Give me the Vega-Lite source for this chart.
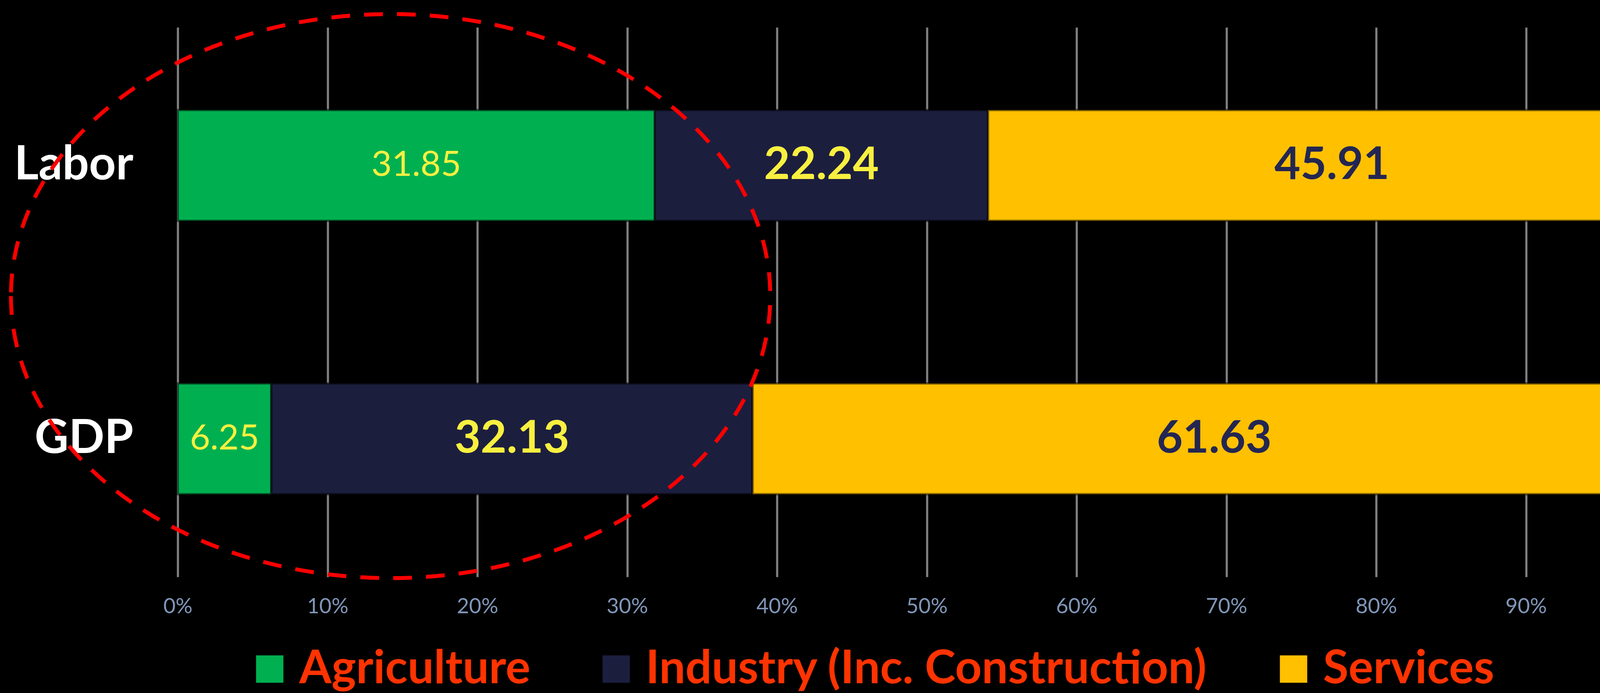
{
  "$schema": "https://vega.github.io/schema/vega-lite/v6.json",
  "background": "#000000",
  "autosize": {"type": "none"},
  "padding": {"left": 455, "top": 70, "right": 78, "bottom": 297},
  "width": 3835,
  "height": 1406,
  "config": {
    "view": {"stroke": null},
    "font": "Lato"
  },
  "layer": [
    {
      "data": {
        "values": [
          {"row": "Labor", "sector": "Agriculture", "value": 31.85},
          {"row": "Labor", "sector": "Industry (Inc. Construction)", "value": 22.24},
          {"row": "Labor", "sector": "Services", "value": 45.91},
          {"row": "GDP", "sector": "Agriculture", "value": 6.25},
          {"row": "GDP", "sector": "Industry (Inc. Construction)", "value": 32.13},
          {"row": "GDP", "sector": "Services", "value": 61.63}
        ]
      },
      "encoding": {
        "y": {
          "field": "row",
          "type": "nominal",
          "sort": ["Labor", "GDP"],
          "scale": {"type": "band", "paddingInner": 0.595, "paddingOuter": 0.3025},
          "axis": {
            "title": null,
            "domain": false,
            "ticks": false,
            "labelPadding": 114,
            "labelColor": "#ffffff",
            "labelFont": "Lato",
            "labelFontSize": 120,
            "labelFontWeight": "bold",
            "labelLimit": 0
          }
        }
      },
      "layer": [
        {
          "mark": {"type": "bar", "stroke": "#000000", "strokeOpacity": 0.5, "strokeWidth": 6},
          "encoding": {
            "x": {
              "field": "value",
              "type": "quantitative",
              "stack": "normalize",
              "scale": {"domain": [0, 1], "nice": false},
              "axis": {
                "title": null,
                "format": "%",
                "values": [0, 0.1, 0.2, 0.3, 0.4, 0.5, 0.6, 0.7, 0.8, 0.9, 1],
                "domain": false,
                "ticks": false,
                "grid": true,
                "gridColor": "#808080",
                "gridWidth": 5.5,
                "gridOpacity": 1,
                "labelFlush": false,
                "labelPadding": 49,
                "labelColor": "#8096b8",
                "labelFont": "Lato",
                "labelFontSize": 54
              }
            },
            "color": {
              "field": "sector",
              "type": "nominal",
              "scale": {
                "domain": ["Agriculture", "Industry (Inc. Construction)", "Services"],
                "range": ["#00b050", "#1c1e3e", "#ffc000"]
              },
              "legend": {
                "title": null,
                "orient": "none",
                "direction": "horizontal",
                "legendX": 176,
                "legendY": 1582,
                "symbolType": "square",
                "symbolSize": 4900,
                "symbolStrokeWidth": 0,
                "symbolOpacity": 1,
                "labelFont": "Lato",
                "labelFontSize": 119,
                "labelFontWeight": "bold",
                "labelColor": "#ff3300",
                "labelOffset": 16,
                "labelLimit": 0,
                "columnPadding": 160
              }
            },
            "order": {"field": "sector", "sort": "ascending"}
          }
        },
        {
          "transform": [
            {"stack": "value", "groupby": ["row"], "sort": [{"field": "sector", "order": "ascending"}], "offset": "normalize", "as": ["v0", "v1"]},
            {"calculate": "(datum.v0 + datum.v1) / 2", "as": "mid"}
          ],
          "layer": [
            {
              "transform": [{"filter": "datum.sector === 'Agriculture'"}],
              "mark": {"type": "text", "font": "Lato", "fontSize": 90, "fontWeight": "normal", "color": "#f8f040", "baseline": "middle", "align": "center"},
              "encoding": {
                "x": {"field": "mid", "type": "quantitative"},
                "text": {"field": "value", "type": "quantitative", "format": ".2f"}
              }
            },
            {
              "transform": [{"filter": "datum.sector === 'Industry (Inc. Construction)'"}],
              "mark": {"type": "text", "font": "Lato", "fontSize": 115, "fontWeight": "bold", "color": "#f8f040", "baseline": "middle", "align": "center"},
              "encoding": {
                "x": {"field": "mid", "type": "quantitative"},
                "text": {"field": "value", "type": "quantitative", "format": ".2f"}
              }
            },
            {
              "transform": [{"filter": "datum.sector === 'Services'"}],
              "mark": {"type": "text", "font": "Lato", "fontSize": 115, "fontWeight": "bold", "color": "#232652", "baseline": "middle", "align": "center"},
              "encoding": {
                "x": {"field": "mid", "type": "quantitative"},
                "text": {"field": "value", "type": "quantitative", "format": ".2f"}
              }
            }
          ]
        }
      ]
    },
    {
      "data": {"values": [{"cx": 0.1421, "cy": 0.511}]},
      "mark": {
        "type": "point",
        "shape": "M-1,0A1,0.7423,0,1,0,1,0A1,0.7423,0,1,0,-1,0Z",
        "size": 3779136,
        "filled": false,
        "stroke": "#ff0000",
        "strokeWidth": 10,
        "strokeDash": [48, 36],
        "opacity": 1,
        "strokeOpacity": 1
      },
      "encoding": {
        "x": {"field": "cx", "type": "quantitative"},
        "y": {"field": "cy", "type": "quantitative", "scale": {"domain": [0, 1], "nice": false, "zero": false}, "axis": null}
      }
    }
  ],
  "resolve": {"scale": {"y": "independent"}}
}
